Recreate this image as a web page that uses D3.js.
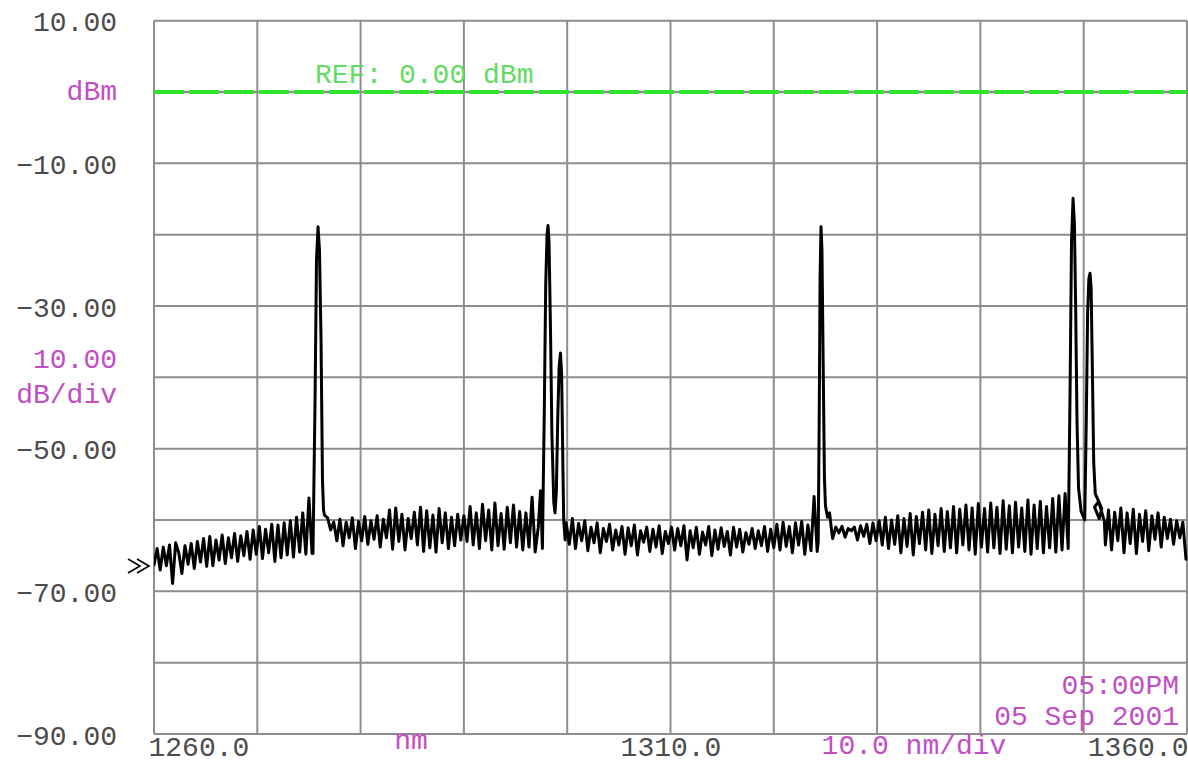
<!DOCTYPE html>
<html>
<head>
<meta charset="utf-8">
<script src="https://cdn.jsdelivr.net/npm/d3@7"></script>
<style>
  html, body { margin: 0; padding: 0; background: #ffffff; }
  svg { display: block; }
  text { font-family: "Liberation Mono", "Courier New", monospace; font-size: 28px; }
</style>
</head>
<body>
<svg id="osa" width="1188" height="764"></svg>
<script>
// Optical spectrum analyser sweep: 1260–1360 nm, 10 dB/div, REF 0 dBm.
const sweepStartNm = 1260;
const sweepStepNm = 0.3;

// Noise floor samples (dBm), one every 0.3 nm from 1260.0 nm.
// null = sample covered by one of the laser lines listed below.
const floorDbm = [
  -66.3, -64.0, -67.0, -63.8, -66.4, -63.5, -68.9, -63.2, -64.6, -67.5,
  -63.6, -66.2, -63.3, -66.8, -63.0, -65.9, -62.6, -66.5, -62.3, -66.4,
  -62.8, -65.6, -62.1, -66.1, -62.5, -65.3, -61.9, -65.8, -62.2, -65.0,
  -61.6, -65.5, -61.4, -64.8, -60.9, -65.4, -61.3, -64.6, -60.6, -65.8,
  -60.7, -65.3, -60.4, -64.9, -60.1, -65.2, -59.6, -64.5, -59.0, -64.8,
  -56.9, -64.7, null, null, null, -59.3, -59.7, -61.4, -60.3, -62.9,
  -59.9, -63.6, -60.3, -62.5, -59.7, -64.0, -60.2, -62.9, -59.5, -63.4,
  -60.1, -62.7, -59.4, -63.8, -59.9, -62.5, -58.6, -64.1, -58.3, -63.0,
  -59.2, -64.2, -59.8, -62.6, -58.9, -63.5, -58.2, -64.4, -58.7, -63.9,
  -59.3, -64.5, -58.4, -63.2, -59.0, -64.0, -59.6, -63.6, -59.2, -62.8,
  -59.4, -63.0, -58.1, -63.5, -59.0, -64.0, -57.8, -62.9, -58.6, -64.2,
  -57.6, -63.6, -59.1, -64.1, -58.2, -63.2, -57.9, -63.8, -58.8, -64.2,
  -59.0, -63.8, -56.8, -64.5, -61.0, null, null, null, null, null,
  null, null, null, -60.4, -63.4, -59.8, -64.0, -60.5, -62.9, -60.1,
  -64.3, -61.0, -63.2, -60.4, -64.6, -61.2, -63.0, -60.6, -64.2, -61.4,
  -63.5, -60.9, -64.8, -61.1, -63.6, -60.7, -64.9, -61.5, -63.1, -61.0,
  -64.4, -61.3, -63.8, -60.8, -64.7, -61.6, -63.3, -61.0, -64.2, -61.2,
  -63.6, -60.8, -65.6, -61.5, -63.9, -61.0, -64.8, -61.7, -63.5, -60.9,
  -65.0, -61.4, -64.1, -61.1, -63.7, -61.6, -64.9, -61.0, -63.8, -61.3,
  -64.5, -61.8, -63.4, -61.2, -64.0, -61.5, -63.6, -60.9, -64.4, -61.3,
  -63.9, -60.6, -64.2, -60.3, -63.7, -60.9, -64.6, -60.4, -63.5, -60.2,
  -64.8, -60.7, -64.3, -56.7, -64.4, null, null, null, null, -62.6,
  -61.0, -61.8, -60.9, -62.4, -61.2, -61.5, -61.0, -62.8, -60.8, -62.3,
  -60.6, -63.3, -60.4, -62.9, -60.1, -63.5, -59.6, -64.0, -60.0, -63.4,
  -59.4, -64.6, -59.8, -63.7, -59.1, -64.9, -59.5, -63.3, -58.9, -64.2,
  -58.6, -64.7, -59.2, -63.6, -58.4, -64.4, -58.8, -63.9, -58.1, -64.6,
  -58.5, -63.5, -57.9, -64.2, -58.3, -64.8, -57.7, -63.8, -58.4, -64.5,
  -57.6, -63.9, -58.2, -64.7, -57.3, -64.1, -58.0, -64.6, -57.5, -63.8,
  -58.3, -64.4, -57.2, -64.8, -57.9, -64.0, -57.4, -64.6, -58.1, -63.9,
  -57.0, -64.5, -56.6, -64.2, -56.3, null, null, null, null, null,
  null, null, null, null, null, null, null, -63.5, -58.6, -64.2,
  -58.9, -62.9, -58.3, -64.6, -59.0, -63.3, -58.5, -64.7, -59.2, -63.0,
  -58.7, -64.3, -59.4, -62.7, -59.0, -63.8, -59.6, -62.6, -59.9, -63.4,
  -60.1, -62.5, -60.3, -65.5
];

// Laser lines, sampled finely (nm / dBm), in sweep order.
const line1Nm   = [1275.39, 1275.59, 1275.73, 1275.88, 1276.02, 1276.17, 1276.31, 1276.41];
const line1Dbm  = [-64.7, -43.2, -23.6, -18.9, -22.2, -34.8, -54.4, -58.6];

const line23Nm  = [1297.42, 1297.60, 1297.78, 1297.92, 1298.05, 1298.14, 1298.24, 1298.38, 1298.52,
                   1298.70, 1298.82, 1298.95, 1299.08, 1299.22, 1299.35, 1299.46, 1299.56, 1299.66, 1299.80];
const line23Dbm = [-55.9, -64.0, -45.0, -27.0, -20.0, -18.7, -21.0, -33.0, -48.0,
                   -57.5, -59.0, -56.0, -46.0, -38.5, -36.6, -39.5, -50.0, -60.0, -62.8];

const line4Nm   = [1324.30, 1324.40, 1324.48, 1324.57, 1324.66, 1324.78, 1324.90, 1325.00, 1325.20, 1325.40, 1325.60];
const line4Dbm  = [-63.0, -45.0, -26.0, -18.9, -22.0, -38.0, -54.0, -58.0, -59.6, -59.0, -61.6];

const line56Nm  = [1348.50, 1348.68, 1348.82, 1348.97, 1349.10, 1349.22, 1349.35, 1349.50, 1349.75, 1350.10,
                   1350.25, 1350.38, 1350.50, 1350.61, 1350.72, 1350.84, 1350.97, 1351.12,
                   1351.75, 1351.50, 1351.05, 1351.45, 1352.00];
const line56Dbm = [-64.0, -42.0, -21.0, -14.9, -18.5, -30.0, -46.0, -55.5, -58.8, -60.0,
                   -46.0, -31.0, -26.2, -25.4, -27.5, -39.0, -52.0, -56.3,
                   -58.4, -59.8, -58.2, -57.4, -60.2];

// Graticule and annotations
const gridNm = [1260, 1270, 1280, 1290, 1300, 1310, 1320, 1330, 1340, 1350, 1360];
const gridDbm = [10, 0, -10, -20, -30, -40, -50, -60, -70, -80, -90];
const yLabelDbm = [10, -10, -30, -50, -70, -90];
const xLabelNm = [1260, 1310, 1360];
const refLevelDbm = 0;
const refText = "REF: 0.00 dBm";
const unitText = "dBm";
const scaleText = ["10.00", "dB/div"];
const xUnitText = "nm";
const spanText = "10.0 nm/div";
const stampText = ["05:00PM", "05 Sep 2001"];

// ---------- layout ----------
const plot = { left: 154, right: 1187, top: 20.7, bottom: 734 };
const colors = {
  grid: "#8d8d8d", label: "#4c4c4c", magenta: "#c24ec6",
  ref: "#2ee52e", refText: "#62dc62", trace: "#000000"
};

const svg = d3.select("#osa");

const x = d3.scaleLinear().domain([1260, 1360]).range([plot.left, plot.right]);
const y = d3.scaleLinear().domain([-90, 10]).range([plot.bottom, plot.top]);

// graticule
const grid = svg.append("g").attr("stroke", colors.grid).attr("stroke-width", 2);
grid.selectAll("line.v").data(gridNm).join("line").attr("class", "v")
  .attr("x1", d => x(d)).attr("x2", d => x(d))
  .attr("y1", plot.top).attr("y2", plot.bottom);
grid.selectAll("line.h").data(gridDbm).join("line").attr("class", "h")
  .attr("x1", plot.left).attr("x2", plot.right)
  .attr("y1", d => y(d)).attr("y2", d => y(d));

// y axis labels
const yAxis = d3.axisLeft(y).tickValues(yLabelDbm).tickFormat(d3.format(".2f"))
  .tickSize(0).tickPadding(37);
const yAxisG = svg.append("g").attr("transform", `translate(${plot.left},0)`).call(yAxis);
yAxisG.select(".domain").remove();
yAxisG.selectAll("text")
  .attr("fill", colors.label).attr("dy", null).attr("y", 10)
  .style("font-family", '"Liberation Mono", "Courier New", monospace').style("font-size", "28px");

// x axis labels
const xAxis = d3.axisBottom(x).tickValues(xLabelNm).tickFormat(d3.format(".1f"))
  .tickSize(0).tickPadding(0);
const xAxisG = svg.append("g").attr("transform", `translate(0,${plot.bottom})`).call(xAxis);
xAxisG.select(".domain").remove();
xAxisG.selectAll("text")
  .attr("fill", colors.label).attr("dy", null).attr("y", 22)
  .attr("text-anchor", (d, i) => i === 0 ? "start" : (i === xLabelNm.length - 1 ? "end" : "middle"))
  .attr("x", (d, i) => i === 0 ? -6 : (i === xLabelNm.length - 1 ? 1 : 0))
  .style("font-family", '"Liberation Mono", "Courier New", monospace').style("font-size", "28px");

// reference level
svg.append("line")
  .attr("x1", plot.left).attr("x2", plot.right)
  .attr("y1", y(refLevelDbm)).attr("y2", y(refLevelDbm))
  .attr("stroke", colors.ref).attr("stroke-width", 4)
  .attr("stroke-dasharray", "30 5");
svg.append("text").attr("x", 315).attr("y", y(refLevelDbm) - 9)
  .attr("fill", colors.refText).text(refText);

// magenta annotations
const ann = svg.append("g").attr("fill", colors.magenta);
ann.append("text").attr("x", 117).attr("y", y(refLevelDbm) + 8).attr("text-anchor", "end").text(unitText);
ann.append("text").attr("x", 117).attr("y", 368).attr("text-anchor", "end").text(scaleText[0]);
ann.append("text").attr("x", 117).attr("y", 403).attr("text-anchor", "end").text(scaleText[1]);
ann.append("text").attr("x", 411).attr("y", 749).attr("text-anchor", "middle").text(xUnitText);
ann.append("text").attr("x", 914).attr("y", 754).attr("text-anchor", "middle").text(spanText);
ann.append("text").attr("x", 1179).attr("y", 694).attr("text-anchor", "end").text(stampText[0]);
ann.append("text").attr("x", 1179).attr("y", 725).attr("text-anchor", "end").text(stampText[1]);

// assemble the trace in sweep order
const lines = [
  { nm: line1Nm, dbm: line1Dbm },
  { nm: line23Nm, dbm: line23Dbm },
  { nm: line4Nm, dbm: line4Dbm },
  { nm: line56Nm, dbm: line56Dbm }
];
const trace = [];
let li = 0;
floorDbm.forEach((v, i) => {
  const nm = sweepStartNm + i * sweepStepNm;
  while (li < lines.length && lines[li].nm[0] <= nm + 1e-9) {
    lines[li].nm.forEach((n, k) => trace.push([n, lines[li].dbm[k]]));
    li++;
  }
  if (v !== null) trace.push([nm, v]);
});

svg.append("clipPath").attr("id", "plotClip").append("rect")
  .attr("x", plot.left).attr("y", plot.top)
  .attr("width", plot.right - plot.left + 2).attr("height", plot.bottom - plot.top);

svg.append("path")
  .datum(trace)
  .attr("clip-path", "url(#plotClip)")
  .attr("fill", "none")
  .attr("stroke", colors.trace)
  .attr("stroke-width", 3)
  .attr("stroke-linejoin", "round")
  .attr("stroke-linecap", "round")
  .attr("d", d3.line().x(d => x(d[0])).y(d => y(d[1])));

// start-of-trace marker ">>"
const my = y(floorDbm[0]) + 1;
const mk = svg.append("g").attr("fill", "none").attr("stroke", colors.trace).attr("stroke-width", 1.6);
[128, 137].forEach(mx => {
  mk.append("path").attr("d", `M${mx},${my - 7} L${mx + 12},${my} L${mx},${my + 7}`);
});
</script>
</body>
</html>
